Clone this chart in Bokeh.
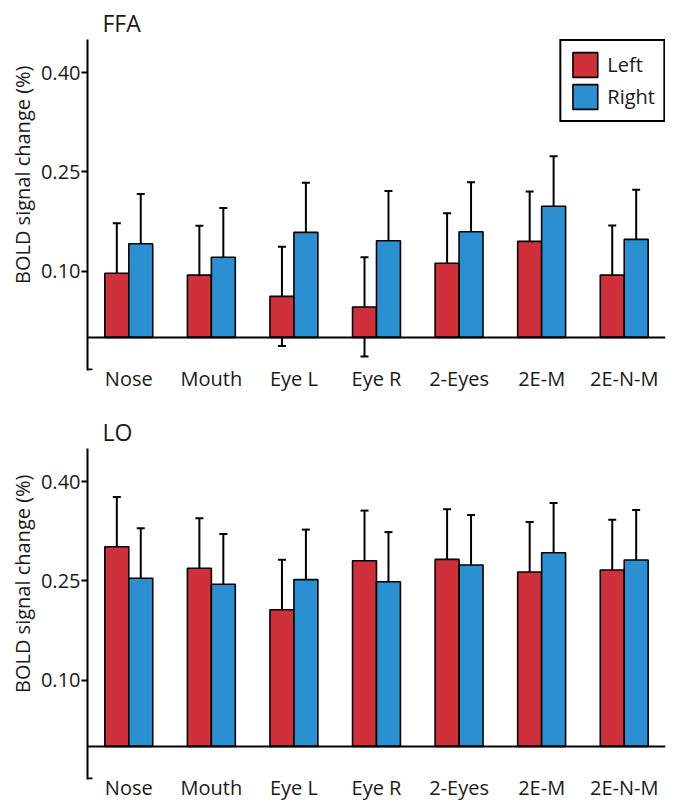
from bokeh.plotting import figure
from bokeh.models import (ColumnDataSource, FactorRange, Range1d, Whisker, TeeHead,
                          Span, Title, FixedTicker, NumeralTickFormatter)
from bokeh.transform import dodge
from bokeh.layouts import column
from bokeh.embed import file_html
from bokeh.resources import INLINE

categories = ["Nose", "Mouth", "Eye L", "Eye R", "2-Eyes", "2E-M", "2E-N-M"]

ffa_left = [0.097, 0.094, 0.062, 0.046, 0.112, 0.145, 0.094]
ffa_left_err = [0.0755, 0.0745, 0.075, 0.075, 0.0755, 0.0755, 0.075]
ffa_right = [0.1415, 0.121, 0.1586, 0.146, 0.1596, 0.198, 0.148]
ffa_right_err = [0.075, 0.0745, 0.075, 0.075, 0.0747, 0.0755, 0.075]

lo_left = [0.3016, 0.269, 0.2064, 0.2805, 0.2825, 0.2634, 0.2664]
lo_left_err = [0.075, 0.0755, 0.0755, 0.0757, 0.0758, 0.0755, 0.076]
lo_right = [0.254, 0.245, 0.252, 0.2487, 0.274, 0.2925, 0.2815]
lo_right_err = [0.0755, 0.076, 0.0755, 0.075, 0.0755, 0.0753, 0.0755]

y_ticks = [0.10, 0.25, 0.40]
series_names = ["Left", "Right"]
y_label = "BOLD signal change (%)"

RED = "#d0303a"
BLUE = "#2a90d2"
FONT = "Open Sans"
TXT = "#1a1a1a"
BAR_W = 0.29


def make_panel(title, left, left_err, right, right_err, height, top, bottom, legend):
    p = figure(x_range=FactorRange(factors=categories, range_padding=0),
               y_range=Range1d(-0.05, 0.45),
               width=670, height=height, output_backend="svg", toolbar_location=None,
               min_border_left=87, min_border_right=5, min_border_top=top,
               min_border_bottom=bottom)
    p.outline_line_color = None
    p.grid.visible = False
    p.background_fill_color = "white"

    p.title.text = title
    p.title.align = "left"
    p.title.offset = 15
    p.title.standoff = 2
    p.title.text_font = FONT
    p.title.text_font_size = "23px"
    p.title.text_font_style = "normal"
    p.title.text_color = TXT

    src = ColumnDataSource(dict(
        cat=categories,
        left=left, right=right,
        l_up=[v + e for v, e in zip(left, left_err)],
        l_lo=[v - e for v, e in zip(left, left_err)],
        r_up=[v + e for v, e in zip(right, right_err)],
        r_lo=[v - e for v, e in zip(right, right_err)],
    ))

    kw_l = dict(legend_label=series_names[0]) if legend else {}
    kw_r = dict(legend_label=series_names[1]) if legend else {}
    p.vbar(x=dodge("cat", -BAR_W / 2, range=p.x_range), top="left", bottom=0,
           width=BAR_W, source=src, fill_color=RED, line_color="black",
           line_width=1.6, **kw_l)
    p.vbar(x=dodge("cat", BAR_W / 2, range=p.x_range), top="right", bottom=0,
           width=BAR_W, source=src, fill_color=BLUE, line_color="black",
           line_width=1.6, **kw_r)

    for off, up, lo in [(-BAR_W / 2, "l_up", "l_lo"), (BAR_W / 2, "r_up", "r_lo")]:
        w = Whisker(base=dodge("cat", off, range=p.x_range), upper=up, lower=lo,
                    source=src, line_color="black", line_width=2,
                    upper_head=TeeHead(size=8, line_width=2, line_color="black"),
                    lower_head=TeeHead(size=8, line_width=2, line_color="black"))
        p.add_layout(w)

    p.add_layout(Span(location=0, dimension="width", line_color="black", line_width=2))

    # small inward cap at the bottom end of the y axis
    p.segment(x0=[0], x1=[0.06], y0=[-0.0485], y1=[-0.0485], line_color="black",
              line_width=2)

    yax = p.yaxis[0]
    yax.ticker = FixedTicker(ticks=y_ticks)
    yax.formatter = NumeralTickFormatter(format="0.00")
    yax.axis_line_width = 2
    yax.axis_line_color = "black"
    yax.major_tick_line_width = 2
    yax.major_tick_line_color = "black"
    yax.major_tick_out = 6
    yax.major_tick_in = 0
    yax.minor_tick_line_color = None
    yax.major_label_text_font = FONT
    yax.major_label_text_font_size = "20px"
    yax.major_label_text_color = TXT
    yax.major_label_standoff = 1

    xax = p.xaxis[0]
    xax.axis_line_color = None
    xax.major_tick_line_color = None
    xax.minor_tick_line_color = None
    xax.major_label_standoff = -12
    xax.major_label_text_font = FONT
    xax.major_label_text_font_size = "20px"
    xax.major_label_text_color = TXT

    yt = Title(text=y_label, align="right", offset=26, standoff=4,
               text_font=FONT, text_font_size="20px", text_font_style="normal",
               text_color=TXT)
    p.add_layout(yt, "left")

    if legend:
        lg = p.legend[0]
        lg.location = "top_right"
        lg.margin = 0
        lg.padding = 8
        lg.spacing = 1
        lg.glyph_width = 31
        lg.glyph_height = 31
        lg.label_standoff = 7
        lg.label_height = 31
        lg.label_text_font = FONT
        lg.label_text_font_size = "20px"
        lg.label_text_color = TXT
        lg.border_line_color = "black"
        lg.border_line_alpha = 1
        lg.border_line_width = 2
        lg.background_fill_alpha = 1
    return p


p1 = make_panel("FFA", ffa_left, ffa_left_err, ffa_right, ffa_right_err,
                410, 39, 40, True)
p2 = make_panel("LO", lo_left, lo_left_err, lo_right, lo_right_err,
                399, 38, 30, False)

layout = column(p1, p2, spacing=0)
open("out.html", "w").write(file_html(layout, INLINE))
